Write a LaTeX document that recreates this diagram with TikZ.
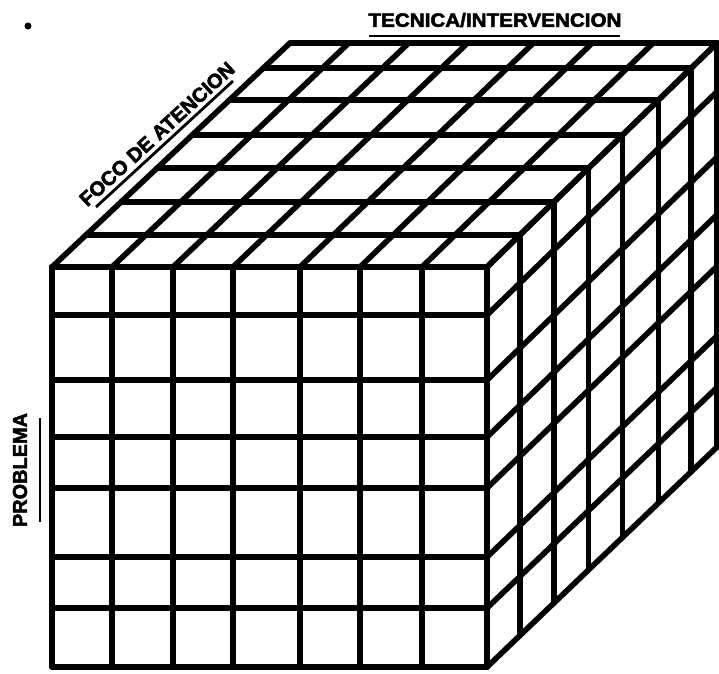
\documentclass[tikz,border=0pt]{standalone}
\usepackage{fontspec}
\setmainfont{Liberation Sans}
\newfontfamily\heavyfont{Liberation Sans}[BoldFeatures={FakeBold=2.5}]
\begin{document}
\begin{tikzpicture}[x=1pt,y=-1pt,
  grid/.style={line width=5.6pt, line cap=round, line join=round},
  lbl/.style={inner sep=0pt, font=\heavyfont\bfseries},
  uline/.style={line width=2.8pt}]
\useasboundingbox[fill=white] (0,0) rectangle (719,673);
% front face
\foreach \c in {52,112,173,233,300,360,422,487}
  \draw[grid] (\c,267) -- (\c,667);
\foreach \r in {267,315,380,437,488,557,608,667}
  \draw[grid] (52,\r) -- (487,\r);
% top face and right face (depth layers)
\foreach \f in {0,0.143,0.29,0.442,0.589,0.746,0.888,1} {
  \draw[grid] ({52+238*\f},{267-224*\f}) -- ({487+230*\f},{267-224*\f});
  \draw[grid] ({487+230*\f},{267-224*\f}) -- ({487+230*\f},{667-220*\f});
}
% depth lines on top face
\foreach \c [count=\j from 0] in {52,112,173,233,300,360,422,487}
  \draw[grid] (\c,267) -- ({\c+238-8*\j/7},43);
% depth lines on right face
\foreach \r [count=\j from 0] in {267,315,380,437,488,557,608,667}
  \draw[grid] (487,\r) -- (717,{\r-224+4*\j/7});
% labels
\node[lbl] (tec) at (495,20) {\resizebox{253pt}{14pt}{TECNICA/INTERVENCION}};
\draw[uline] (369,36) -- (620,36);
\node[lbl, rotate=42.5] (foco) at (157,134) {\resizebox{202pt}{14pt}{FOCO DE ATENCION}};
\draw[uline] (96,207) -- (233,81);
\node[lbl, rotate=90] (prob) at (20,470) {\resizebox{114pt}{14pt}{PROBLEMA}};
\draw[uline] (40,418) -- (40,522);
\fill (28,26) circle (3.5pt);
\end{tikzpicture}
\end{document}
